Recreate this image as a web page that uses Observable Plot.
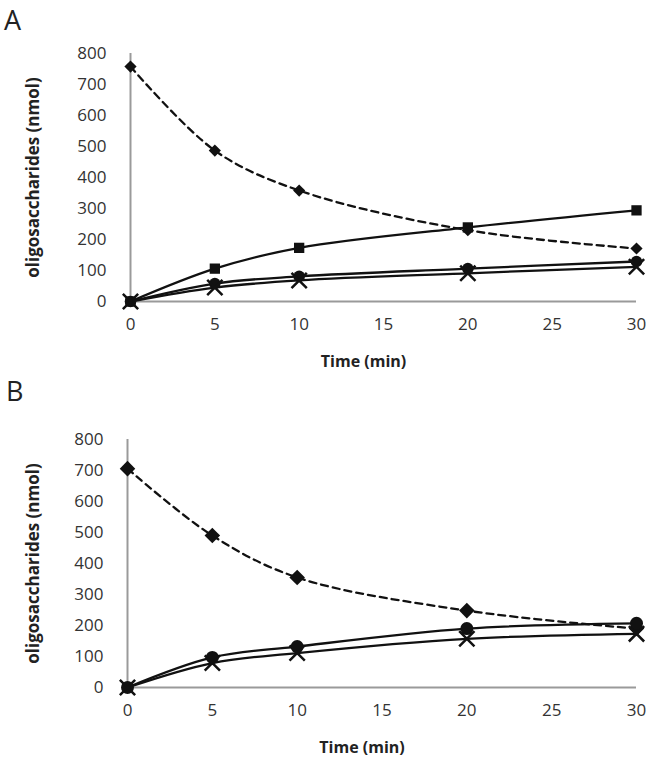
<!DOCTYPE html>
<html>
<head>
<meta charset="utf-8">
<script src="https://cdn.jsdelivr.net/npm/d3@7"></script>
<script src="https://cdn.jsdelivr.net/npm/@observablehq/plot@0.6"></script>
<style>
  body { margin: 0; background: #fff; font-family: "Open Sans", sans-serif; }
  #wrap { position: relative; width: 652px; height: 770px; }
  .panel { position: absolute; left: 0; width: 652px; height: 385px; }
  .letter { position: absolute; font-size: 27px; color: #222; font-family: "Open Sans", sans-serif; line-height: 1; }
</style>
</head>
<body>
<div id="wrap">
  <div class="panel" id="pa" style="top:0"></div>
  <div class="panel" id="pb" style="top:385px"></div>
  <div class="letter" style="left:4px;top:6px">A</div>
  <div class="letter" style="left:6px;top:377px">B</div>
</div>
<script>
// Time points (min)
const time = [0, 5, 10, 20, 30];
const xTicks = [0, 5, 10, 15, 20, 25, 30];
const yTicks = [0, 100, 200, 300, 400, 500, 600, 700, 800];

// Panel A values (nmol)
const aDiamond = [758, 487, 358, 230, 171];
const aSquare  = [0, 106, 173, 239, 294];
const aCircle  = [0, 58, 81, 106, 129];
const aCross   = [0, 45, 68, 91, 112];

// Panel B values (nmol)
const bDiamond = [706, 490, 355, 248, 190];
const bCircle  = [0, 97, 132, 190, 207];
const bCross   = [0, 79, 111, 157, 173];

function rows(vals, series) {
  return time.map((t, i) => ({t, v: vals[i], series}));
}

function panel(seriesList, m) {
  const marks = [
    Plot.ruleX([0], {y1: 0, y2: 800, stroke: "#9a9a9a", strokeWidth: 2}),
    Plot.ruleY([0], {x1: 0, x2: 30, stroke: "#9a9a9a", strokeWidth: 2}),
    Plot.axisX({ticks: xTicks, tickSize: 0, tickPadding: 16, fontSize: 17, label: null, color: "#333"}),
    Plot.axisY({ticks: yTicks, tickSize: 0, tickPadding: 24, fontSize: 17, label: null, color: "#333"}),
    Plot.text(["Time (min)"], {frameAnchor: "bottom", dy: 65, dx: -20, fontSize: 16, fontWeight: "bold", fill: "#222"}),
    Plot.text(["oligosaccharides (nmol)"], {frameAnchor: "left", dx: m.titleDx, rotate: -90, textAnchor: "middle", fontSize: 17, fontWeight: "bold", fill: "#222"})
  ];
  for (const s of seriesList) {
    const d = rows(s.vals, s.name);
    marks.push(Plot.line(d, {x: "t", y: "v", curve: "catmull-rom", stroke: "#111", strokeWidth: 2.3,
      strokeDasharray: s.dashed ? "7,5" : null}));
  }
  for (const s of seriesList) {
    const d = rows(s.vals, s.name);
    if (s.symbol === "times") {
      marks.push(Plot.dot(d, {x: "t", y: "v", symbol: "times", r: 7, stroke: "#111", strokeWidth: 2.5, fill: "none"}));
    } else {
      marks.push(Plot.dot(d, {x: "t", y: "v", symbol: s.symbol, r: s.r, fill: "#111", stroke: "none"}));
    }
  }
  return Plot.plot({
    width: 652,
    height: 385,
    marginTop: m.top,
    marginBottom: m.bottom,
    marginLeft: m.left,
    marginRight: 16,
    style: {fontFamily: "Open Sans, sans-serif", background: "white"},
    x: {domain: [0, 30]},
    y: {domain: [0, 800]},
    marks
  });
}

document.getElementById("pa").appendChild(panel([
  {name: "diamond", vals: aDiamond, symbol: "diamond2", r: 5.5, dashed: true},
  {name: "square", vals: aSquare, symbol: "square", r: 5.8},
  {name: "circle", vals: aCircle, symbol: "circle", r: 5.8},
  {name: "cross", vals: aCross, symbol: "times"}
], {top: 53, bottom: 84, left: 130, titleDx: -97}));

document.getElementById("pb").appendChild(panel([
  {name: "diamond", vals: bDiamond, symbol: "diamond2", r: 7, dashed: true},
  {name: "circle", vals: bCircle, symbol: "circle", r: 6.5},
  {name: "cross", vals: bCross, symbol: "times"}
], {top: 54, bottom: 83, left: 127, titleDx: -94}));
</script>
</body>
</html>
